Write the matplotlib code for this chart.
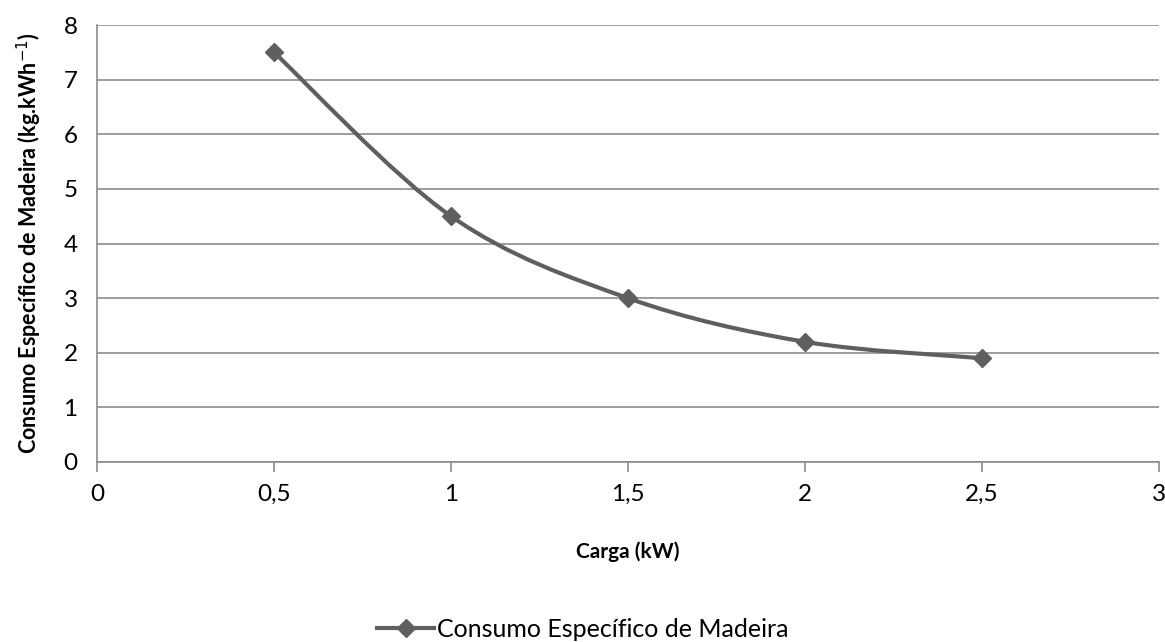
import matplotlib
matplotlib.use("Agg")
import matplotlib.pyplot as plt
import numpy as np
from matplotlib.path import Path
from matplotlib.patches import PathPatch
from matplotlib.lines import Line2D
from matplotlib.ticker import FuncFormatter, MultipleLocator

plt.rcParams["font.family"] = ["Lato", "DejaVu Sans"]

carga = [0.5, 1.0, 1.5, 2.0, 2.5]
consumo = [7.5, 4.5, 3.0, 2.2, 1.9]
serie = "Consumo Específico de Madeira"

line_color = "#5f5f5f"
grid_color = "#8c8c8c"

fig = plt.figure(figsize=(11.65, 6.42), dpi=100)
ax = fig.add_axes([0.0833, 0.2804, 0.9115, 0.6806])

# Excel-style smoothed line: cubic Bezier segments (Catmull-Rom, tension 1/6)
x = np.array(carga)
y = np.array(consumo)
n = len(x)
verts = [(x[0], y[0])]
codes = [Path.MOVETO]
for i in range(n - 1):
    xp, yp = (x[i - 1], y[i - 1]) if i > 0 else (x[i], y[i])
    xn, yn = (x[i + 2], y[i + 2]) if i + 2 < n else (x[i + 1], y[i + 1])
    c1 = (x[i] + (x[i + 1] - xp) / 6, y[i] + (y[i + 1] - yp) / 6)
    c2 = (x[i + 1] - (xn - x[i]) / 6, y[i + 1] - (yn - y[i]) / 6)
    verts += [c1, c2, (x[i + 1], y[i + 1])]
    codes += [Path.CURVE4] * 3
ax.add_patch(PathPatch(Path(verts, codes), facecolor="none",
                       edgecolor=line_color, lw=3, capstyle="round", zorder=3))
ax.plot(carga, consumo, ls="none", marker="D", ms=9, color=line_color, zorder=4)

ax.set_xlim(0, 3)
ax.set_ylim(0, 8)
ax.xaxis.set_major_locator(MultipleLocator(0.5))
ax.yaxis.set_major_locator(MultipleLocator(1))
fmt = FuncFormatter(lambda v, p: f"{v:g}".replace(".", ","))
ax.xaxis.set_major_formatter(fmt)
ax.yaxis.set_major_formatter(fmt)

ax.grid(axis="y", color=grid_color, lw=1.2)
ax.set_axisbelow(True)
for s in ["top", "right"]:
    ax.spines[s].set_visible(False)
for s in ["left", "bottom"]:
    ax.spines[s].set_color(grid_color)
    ax.spines[s].set_linewidth(1.2)

ax.tick_params(axis="x", direction="out", length=7, width=1.2, color=grid_color,
               labelsize=17.5, pad=9)
ax.tick_params(axis="y", length=0, labelsize=17.5, pad=14)

ax.set_xlabel("Carga (kW)", fontsize=15, fontweight="bold", labelpad=26)
ax.set_ylabel("Consumo Específico de Madeira (kg.kWh$^{-1}$)", fontsize=15.5,
              fontweight="bold", labelpad=14)

handle = Line2D([], [], color=line_color, lw=3, marker="D", ms=9)
fig.legend([handle], [serie], loc="center", bbox_to_anchor=(0.5, 0.02),
           frameon=False, fontsize=18, handlelength=2.3, handletextpad=0.1)

fig.savefig("out.png", dpi=100)
